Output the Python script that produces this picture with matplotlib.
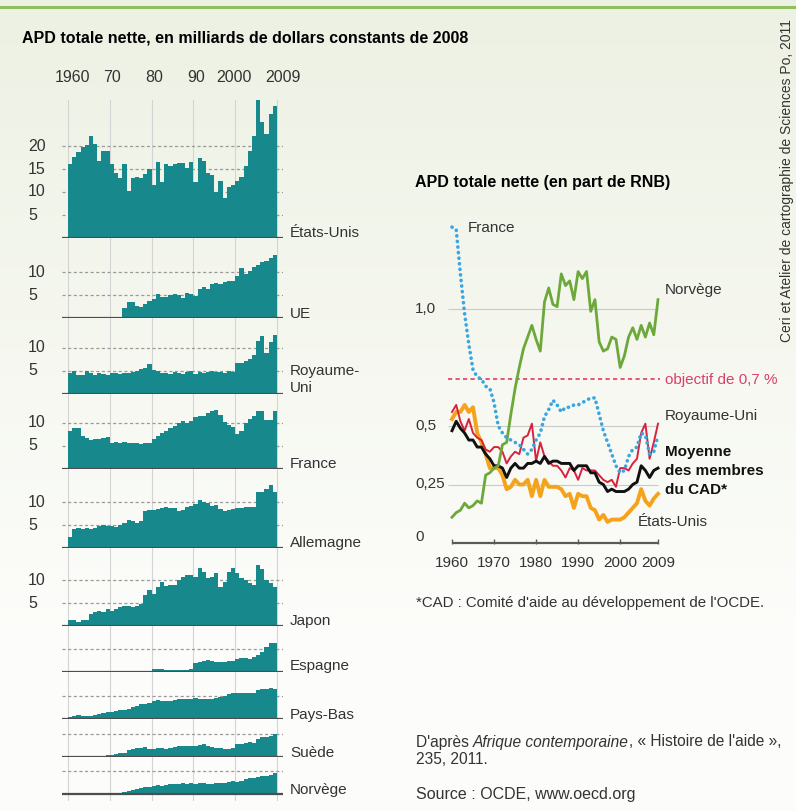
import matplotlib.pyplot as plt
import matplotlib.transforms as mtransforms
from matplotlib.lines import Line2D
import numpy as np

plt.rcParams['font.family'] = ['Liberation Sans', 'DejaVu Sans']

W, H = 796, 811
years = np.arange(1960, 2010)

# APD totale nette, milliards de dollars constants de 2008
etats_unis = [16.1, 17.6, 18.7, 19.8, 20.2, 22.2, 20.5, 16.8, 18.9, 18.9,
              16.1, 14.1, 13.1, 16.1, 10.2, 13.0, 13.3, 13.1, 13.9, 15.0,
              11.6, 16.5, 12.1, 16.1, 15.6, 16.1, 16.4, 16.4, 15.3, 16.5,
              12.1, 17.3, 16.8, 14.1, 13.7, 10.1, 12.4, 8.7, 11.1, 11.5,
              12.4, 13.3, 15.6, 18.9, 22.2, 30.4, 25.2, 22.7, 27.0, 28.7]
ue_start = 1973
ue = [2.1, 3.4, 3.4, 2.6, 2.5, 3.1, 3.6, 4.1, 5.2, 4.5, 4.5, 5.0, 5.2, 5.0,
      4.3, 5.5, 5.2, 4.8, 6.4, 6.8, 6.4, 7.5, 7.6, 7.5, 7.9, 8.1, 8.1, 9.1,
      10.9, 9.5, 10.2, 11.1, 11.6, 12.1, 12.5, 13.1, 13.6]
royaume_uni = [4.6, 5.0, 4.2, 4.2, 5.0, 4.5, 4.2, 4.5, 4.4, 4.2,
               4.5, 4.6, 4.4, 4.5, 4.6, 4.8, 5.0, 5.4, 5.6, 6.6,
               5.2, 5.0, 4.5, 4.6, 4.4, 4.7, 4.5, 4.3, 4.7, 4.9,
               4.4, 4.8, 4.6, 4.8, 4.9, 4.8, 4.7, 4.6, 4.9, 4.7,
               6.8, 6.8, 7.2, 7.5, 8.5, 11.5, 12.7, 9.0, 11.3, 12.8]
france = [8.2, 8.9, 8.9, 7.2, 6.7, 6.2, 6.4, 6.5, 6.7, 6.9,
          5.7, 5.9, 5.7, 5.9, 5.7, 5.6, 5.6, 5.5, 5.6, 5.6,
          6.4, 7.1, 7.8, 8.2, 8.9, 9.4, 10.0, 10.4, 10.0, 10.4,
          11.2, 11.6, 11.4, 12.2, 12.5, 12.9, 11.8, 10.1, 9.6, 9.1,
          7.5, 8.2, 10.0, 10.9, 11.6, 12.5, 12.5, 10.7, 10.7, 12.5]
allemagne = [2.4, 4.1, 4.3, 4.1, 4.3, 4.1, 4.3, 4.7, 5.1, 4.7,
             4.9, 4.6, 5.1, 5.4, 6.0, 5.8, 5.4, 5.8, 8.0, 8.2,
             8.3, 8.5, 8.7, 8.9, 8.7, 8.7, 8.0, 8.3, 8.9, 9.2,
             9.6, 10.4, 10.1, 9.8, 9.2, 9.4, 8.5, 8.0, 8.2, 8.5,
             8.7, 8.7, 8.9, 8.9, 8.9, 12.1, 12.1, 12.8, 13.8, 12.1]
japon = [1.4, 1.4, 0.9, 1.4, 1.4, 2.7, 3.1, 3.4, 3.1, 3.8,
         3.4, 3.8, 4.2, 4.5, 4.5, 4.2, 4.5, 4.9, 6.7, 7.8,
         7.1, 8.5, 9.6, 8.7, 8.9, 8.9, 10.1, 10.7, 11.1, 11.2,
         10.7, 12.6, 11.8, 10.4, 10.7, 11.5, 8.5, 9.6, 11.8, 12.6,
         11.5, 10.4, 10.0, 9.3, 8.9, 13.3, 12.4, 10.0, 9.4, 8.5]
espagne_start = 1980
espagne = [0.7, 0.8, 0.8, 0.4, 0.4, 0.4, 0.4, 0.5, 0.5, 0.7,
           2.0, 2.2, 2.5, 2.6, 2.5, 2.3, 2.2, 2.3, 2.5, 2.4,
           2.8, 3.1, 3.0, 2.9, 3.4, 3.8, 4.5, 5.4, 6.4, 6.4]
pays_bas = [0.4, 0.7, 0.9, 0.7, 0.6, 0.7, 1.0, 1.2, 1.3, 1.5,
            1.5, 1.7, 1.9, 2.1, 2.2, 2.6, 2.9, 3.2, 3.4, 3.5,
            3.9, 4.1, 3.9, 3.9, 3.9, 4.1, 4.3, 4.3, 4.4, 4.3,
            4.6, 4.4, 4.4, 4.3, 4.3, 4.6, 4.9, 5.0, 5.4, 5.6,
            5.7, 5.6, 5.7, 5.6, 5.7, 6.3, 6.5, 6.6, 6.8, 6.5]
suede_start = 1968
suede = [0.3, 0.5, 0.5, 0.7, 0.9, 1.0, 1.5, 1.8, 2.0, 2.0,
         2.2, 1.9, 1.8, 2.0, 2.0, 1.8, 2.0, 2.2, 2.4, 2.4,
         2.5, 2.4, 2.5, 2.6, 2.8, 2.4, 2.2, 2.0, 2.0, 1.8,
         1.9, 2.1, 2.8, 3.0, 3.1, 3.3, 3.1, 4.0, 4.5, 4.5,
         4.6, 5.0]
norvege_start = 1972
norvege = [0.2, 0.4, 0.6, 0.8, 1.1, 1.4, 1.6, 1.6, 1.7, 1.9,
           1.7, 1.9, 2.1, 2.1, 2.3, 2.5, 2.3, 2.5, 2.3, 2.5,
           2.5, 2.3, 2.3, 2.5, 2.5, 2.5, 2.7, 2.9, 2.7, 2.9,
           3.3, 3.4, 3.4, 3.8, 3.9, 4.0, 4.2, 4.6]

# APD totale nette en part du RNB (%)
rnb_france = [1.35, 1.34, 1.15, 0.98, 0.85, 0.74, 0.71, 0.70, 0.67, 0.66,
              0.60, 0.50, 0.47, 0.45, 0.44, 0.43, 0.42, 0.40, 0.38, 0.40,
              0.44, 0.47, 0.54, 0.57, 0.61, 0.59, 0.56, 0.58, 0.58, 0.59,
              0.59, 0.60, 0.61, 0.62, 0.62, 0.55, 0.48, 0.43, 0.38, 0.33,
              0.30, 0.31, 0.37, 0.40, 0.41, 0.47, 0.46, 0.38, 0.39, 0.46]
rnb_norvege = [0.11, 0.13, 0.14, 0.17, 0.15, 0.16, 0.18, 0.17, 0.29, 0.30,
               0.32, 0.33, 0.42, 0.43, 0.55, 0.66, 0.75, 0.83, 0.88, 0.93,
               0.87, 0.82, 1.03, 1.09, 1.02, 1.01, 1.15, 1.10, 1.12, 1.04,
               1.16, 1.13, 1.16, 0.99, 1.04, 0.86, 0.82, 0.83, 0.88, 0.87,
               0.75, 0.80, 0.88, 0.92, 0.87, 0.93, 0.88, 0.94, 0.89, 1.04]
rnb_royaume_uni = [0.56, 0.59, 0.52, 0.48, 0.53, 0.47, 0.45, 0.44, 0.40, 0.39,
                   0.41, 0.41, 0.39, 0.34, 0.37, 0.39, 0.38, 0.45, 0.46, 0.51,
                   0.35, 0.43, 0.37, 0.35, 0.33, 0.33, 0.31, 0.28, 0.32, 0.31,
                   0.27, 0.32, 0.31, 0.31, 0.31, 0.29, 0.27, 0.26, 0.27, 0.24,
                   0.32, 0.32, 0.31, 0.34, 0.36, 0.47, 0.51, 0.36, 0.43, 0.51]
rnb_etats_unis = [0.53, 0.56, 0.56, 0.59, 0.56, 0.58, 0.47, 0.43, 0.38, 0.32,
                  0.32, 0.32, 0.29, 0.23, 0.24, 0.27, 0.25, 0.25, 0.27, 0.20,
                  0.27, 0.20, 0.27, 0.24, 0.24, 0.24, 0.23, 0.20, 0.21, 0.15,
                  0.21, 0.20, 0.20, 0.15, 0.14, 0.10, 0.12, 0.09, 0.10, 0.10,
                  0.10, 0.11, 0.13, 0.15, 0.17, 0.23, 0.18, 0.16, 0.19, 0.21]
rnb_cad = [0.48, 0.52, 0.49, 0.47, 0.44, 0.44, 0.41, 0.41, 0.38, 0.36,
           0.33, 0.33, 0.32, 0.28, 0.32, 0.34, 0.32, 0.32, 0.34, 0.34,
           0.35, 0.34, 0.37, 0.34, 0.35, 0.35, 0.34, 0.34, 0.34, 0.31,
           0.33, 0.33, 0.33, 0.30, 0.30, 0.26, 0.25, 0.22, 0.23, 0.22,
           0.22, 0.22, 0.23, 0.25, 0.26, 0.33, 0.31, 0.28, 0.31, 0.32]

TEAL = '#17898d'
GRID = '#d4d4d4'


def rect(x, y, w, h):
    return [x / W, 1 - (y + h) / H, w / W, h / H]


fig = plt.figure(figsize=(W / 100, H / 100), dpi=100)

# background: pale green fading to white
bg = fig.add_axes([0, 0, 1, 1], zorder=-10)
top_c = np.array([0.929, 0.945, 0.890])
bot_c = np.array([0.992, 0.993, 0.985])
t = np.clip(np.linspace(0, 1, 400) * 1.25, 0, 1)[:, None]
grad = (top_c * (1 - t) + bot_c * t)[:, None, :]
bg.imshow(grad, extent=[0, 1, 0, 1], aspect='auto')
bg.axis('off')
fig.add_artist(Line2D([0, 1], [1 - 7 / H] * 2, color='#8fbf5f', lw=2.2,
                      transform=fig.transFigure))

fig.text(22 / W, 1 - 38 / H, 'APD totale nette, en milliards de dollars constants de 2008',
         fontsize=11.5, fontweight='bold', va='center')

# left column: one small area chart per donor
panels = [
    ('États-Unis', 1960, etats_unis, 30.0, [5, 10, 15, 20], [20, 15, 10, 5], 1.0),
    ('UE', ue_start, ue, 17.4, [5, 10], [10, 5], 0.8),
    ('Royaume-\nUni', 1960, royaume_uni, 16.5, [5, 10], [10, 5], 3.2),
    ('France', 1960, france, 16.3, [5, 10], [10, 5], 1.0),
    ('Allemagne', 1960, allemagne, 17.2, [5, 10], [10, 5], 1.0),
    ('Japon', 1960, japon, 17.0, [5, 10], [10, 5], 1.2),
    ('Espagne', espagne_start, espagne, 10.0, [5], [], 1.4),
    ('Pays-Bas', 1960, pays_bas, 10.2, [5], [], 1.0),
    ('Suède', suede_start, suede, 8.3, [5], [], 0.9),
    ('Norvège', norvege_start, norvege, 8.0, [5], [], 0.9),
]

scale = 4.6  # px per milliard
px_year = (277 - 68) / 50
x0 = 1960 - 6 / px_year
x1 = 2010 + 6 / px_year
top = 100
for i, (name, start, vals, ymax, dashed, labels, label_y) in enumerate(panels):
    ymin = -1.6 if i == len(panels) - 1 else 0
    h = (ymax - ymin) * scale
    ax = fig.add_axes(rect(62, top, 221, h))
    ax.set_xlim(x0, x1)
    ax.set_ylim(ymin, ymax)
    ax.axis('off')
    for xv in [1960, 1970, 1980, 1990, 2000, 2010]:
        ax.axvline(xv, color=GRID, lw=0.8, zorder=0)
    for lv in dashed:
        ax.axhline(lv, color='#9a9a9a', lw=0.9, dashes=(2.5, 2), zorder=1)
    edges = np.arange(start, start + len(vals) + 1)
    ax.stairs(vals, edges, fill=True, color=TEAL, lw=0, zorder=2)
    ax.axhline(0, color='#4d4d4d', lw=1.6, zorder=3)
    trans = mtransforms.blended_transform_factory(fig.transFigure, ax.transData)
    for lv in labels:
        ax.text(28 / W, lv, str(lv), transform=trans, fontsize=11.5,
                va='center', ha='left', color='#333333')
    ax.text(290 / W, label_y, name, transform=trans, fontsize=11,
            va='center', ha='left', color='#333333', linespacing=1.25)
    top += ymax * scale

for lab, xp in [('1960', 72), ('70', 112), ('80', 154), ('90', 196),
                ('2000', 234), ('2009', 283)]:
    fig.text(xp / W, 1 - 78 / H, lab, fontsize=11.5, ha='center', va='center',
             color='#333333')

# right chart: share of GNI
pxr = (658 - 452) / 49
rx0 = 1960 - 6 / pxr
rx1 = 2009 + 4 / pxr
py = 234.0
ax2 = fig.add_axes(rect(446, 200, 216, 350))
ax2.set_xlim(rx0, rx1)
ax2.set_ylim(-(550 - 543) / py, (543 - 200) / py)
ax2.axis('off')

gl = 1960 - 4 / pxr
for lv in [0.25, 0.5, 1.0]:
    ax2.hlines(lv, gl, 2009, color='#c9c9c9', lw=0.8, zorder=0)
ax2.hlines(0.7, gl, 2009 + 2 / pxr, color='#e23a5c', lw=1.2,
           linestyles=(0, (2.5, 2)), zorder=1)
ax2.hlines(0, 1960, 2009, color='#5a5a5a', lw=1.6, zorder=2)
ax2.vlines([1960, 1970, 1980, 1990, 2000, 2009], -0.004, 0.017,
           color='#5a5a5a', lw=1.0, zorder=2)

ax2.plot(years, rnb_etats_unis, color='#f5a31a', lw=2.8, zorder=3,
         solid_joinstyle='round')
ax2.plot(years, rnb_royaume_uni, color='#d8223f', lw=1.4, zorder=4)
ax2.plot(years, rnb_cad, color='#111111', lw=2.1, zorder=5)
ax2.plot(years, rnb_norvege, color='#6ca83a', lw=2.0, zorder=6)
ax2.plot(years, rnb_france, color='#3aa6e0', lw=2.6, zorder=7,
         linestyle=(0, (0.05, 1.5)), dash_capstyle='round')

tr2 = mtransforms.blended_transform_factory(fig.transFigure, ax2.transData)
for lab, lv, off in [('1,0', 1.0, 0), ('0,5', 0.5, 0), ('0,25', 0.25, 0), ('0', 0.0, 0.025)]:
    ax2.text(415 / W, lv + off, lab, transform=tr2, fontsize=11, va='center',
             ha='left', color='#333333')
trx = mtransforms.blended_transform_factory(ax2.transData, fig.transFigure)
for yv in [1960, 1970, 1980, 1990, 2000, 2009]:
    ax2.text(yv, 1 - 563 / H, str(yv), transform=trx, fontsize=11,
             ha='center', va='center', color='#333333')

fig.text(415 / W, 1 - 183 / H, 'APD totale nette (en part de RNB)',
         fontsize=11.5, fontweight='bold', va='center')


def ftext(x, y, s, **kw):
    kw.setdefault('fontsize', 11)
    kw.setdefault('color', '#333333')
    return fig.text(x / W, 1 - y / H, s, va='center', ha='left', **kw)


ftext(468, 228, 'France')
ftext(665, 290, 'Norvège')
ftext(665, 380, 'objectif de 0,7 %', color='#d9406a')
ftext(665, 416, 'Royaume-Uni')
ftext(665, 452, 'Moyenne', fontweight='bold', color='#111111')
ftext(665, 471, 'des membres', fontweight='bold', color='#111111')
ftext(665, 490, 'du CAD*', fontweight='bold', color='#111111')
ftext(638, 522, 'États-Unis')

ftext(416, 603, "*CAD : Comité d'aide au développement de l'OCDE.", fontsize=10.8)

r = fig.canvas.get_renderer()
xcur = 416
for part, style in [("D'après ", 'normal'), ('Afrique contemporaine', 'italic'),
                    (", « Histoire de l'aide »,", 'normal')]:
    tt = ftext(xcur, 742, part, fontsize=11.2, style=style)
    xcur = tt.get_window_extent(r).x1
ftext(416, 759, '235, 2011.', fontsize=11.2)
ftext(416, 795, 'Source : OCDE, www.oecd.org', fontsize=11.5)

fig.text(787 / W, 1 - 181 / H, 'Ceri et Atelier de cartographie de Sciences Po, 2011',
         rotation=90, fontsize=10, ha='center', va='center', color='#333333')

fig.savefig('out.png', dpi=100)
